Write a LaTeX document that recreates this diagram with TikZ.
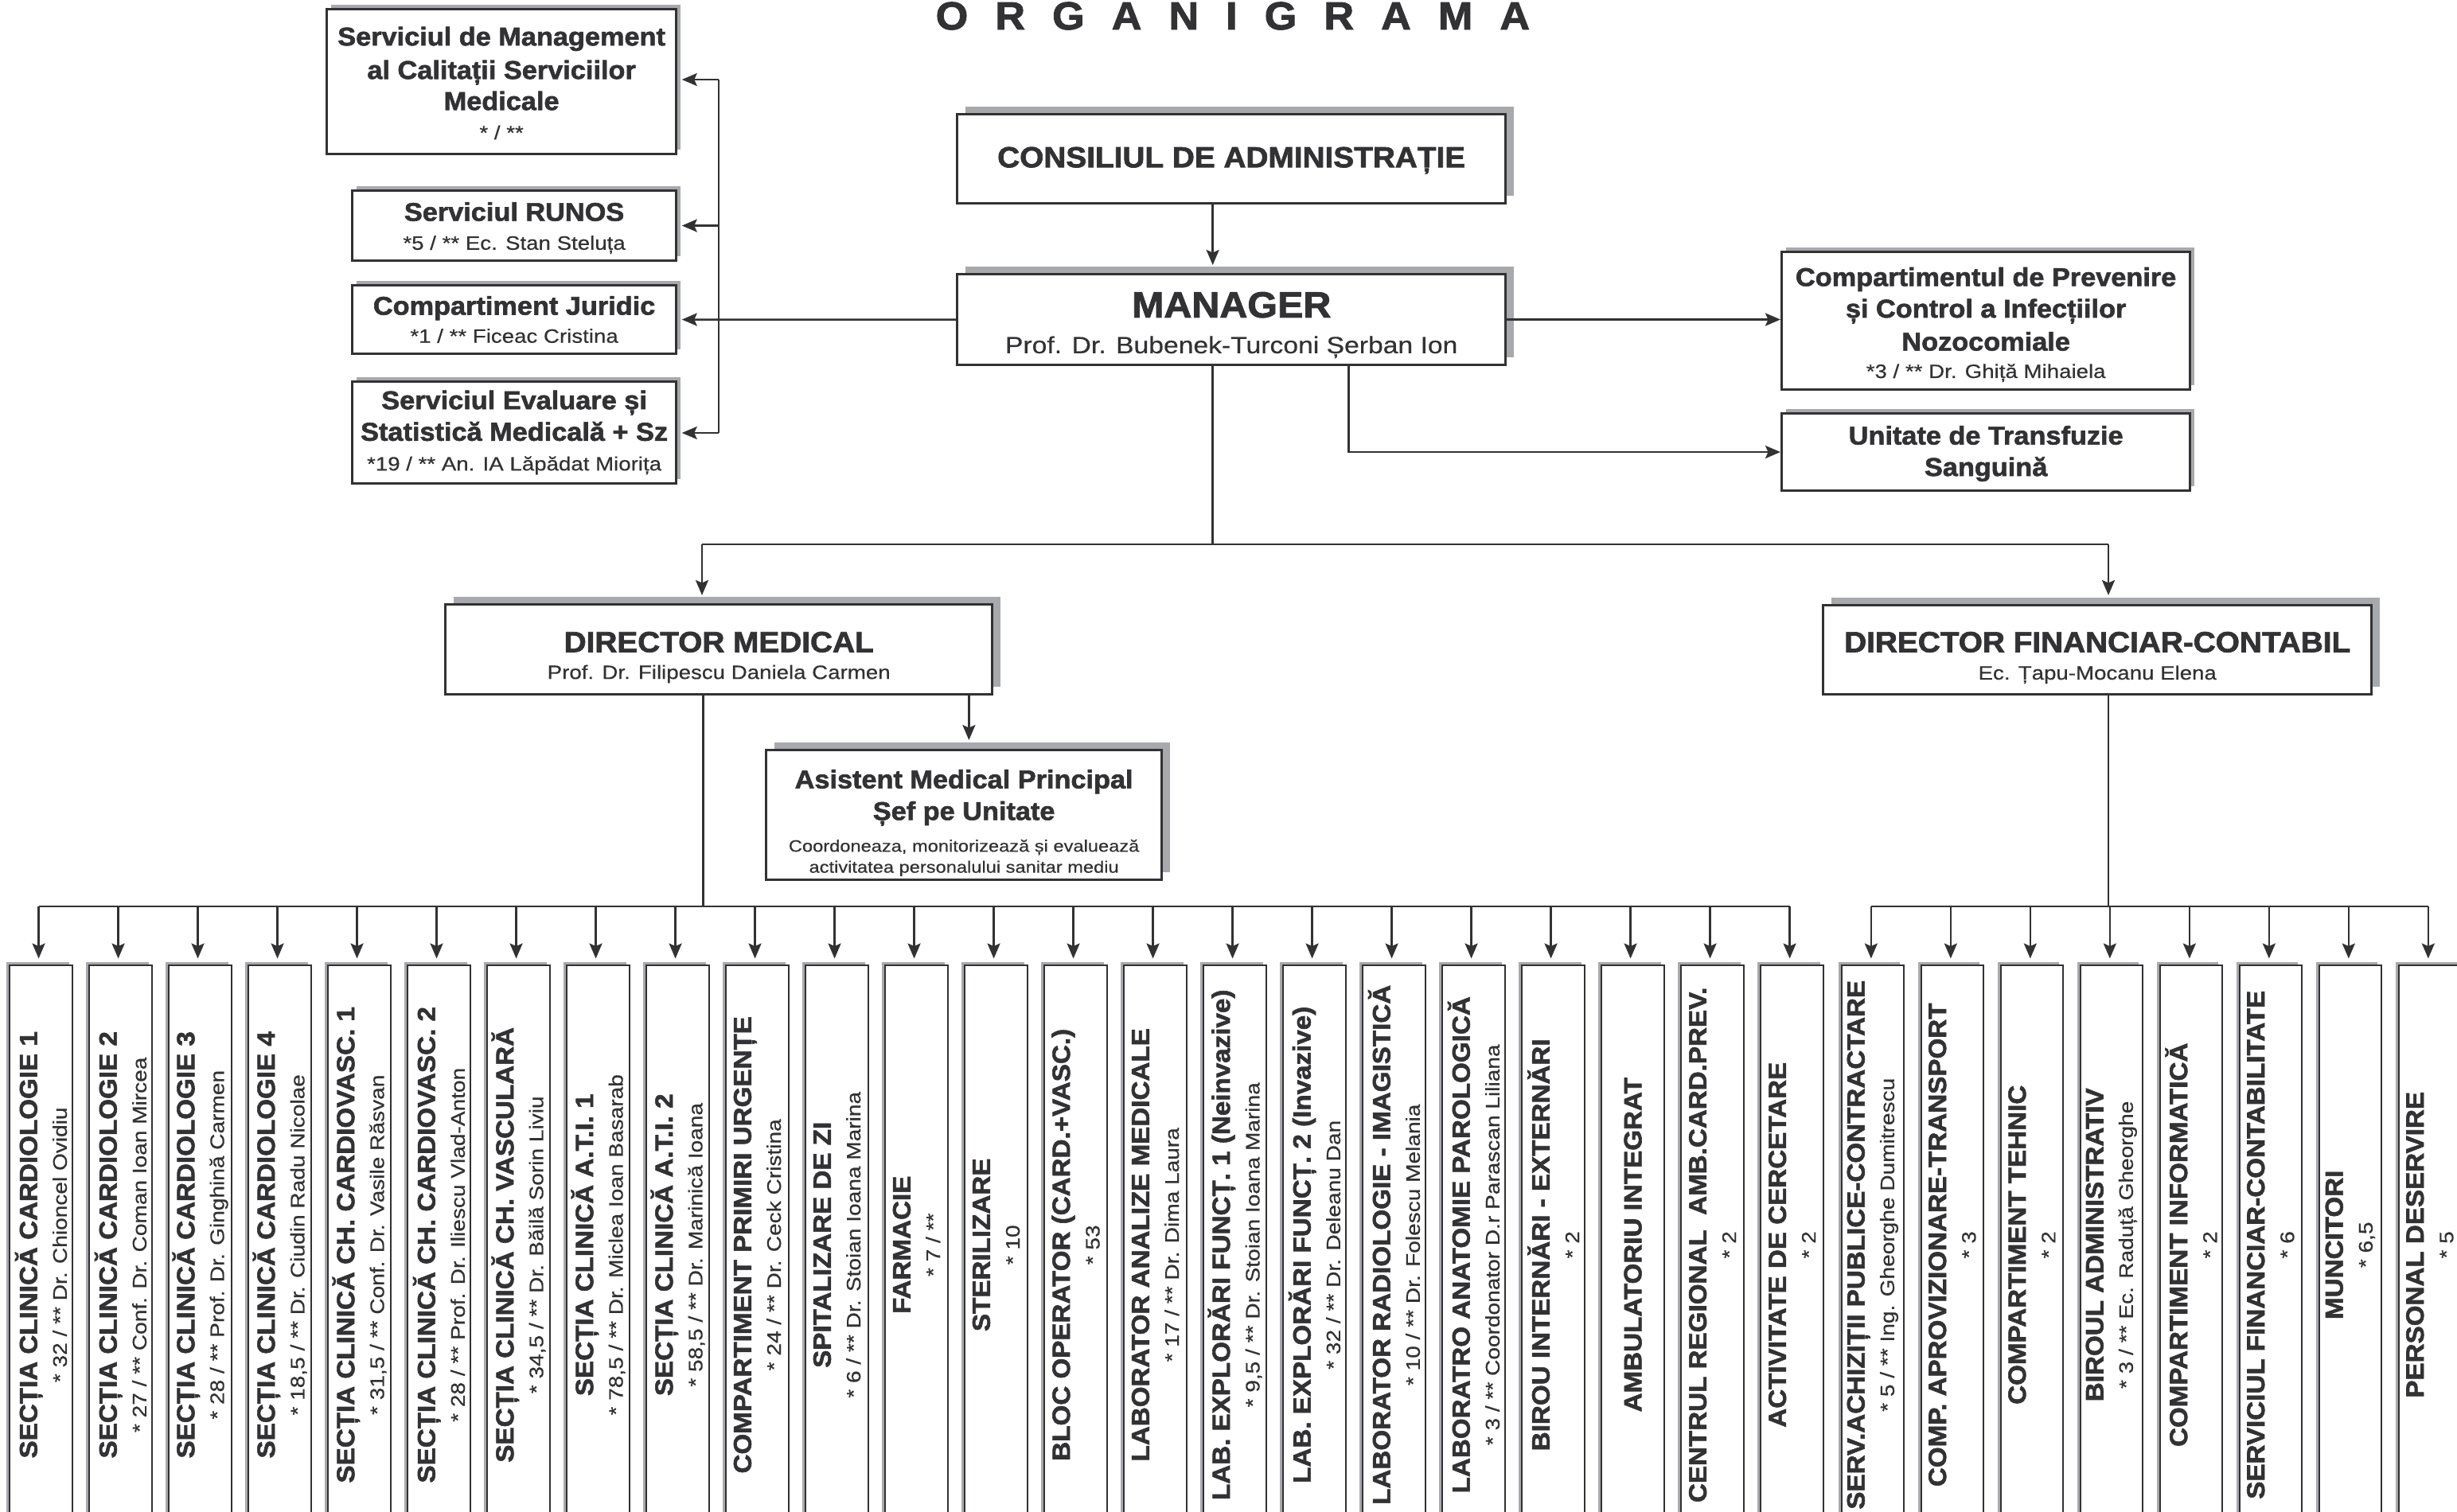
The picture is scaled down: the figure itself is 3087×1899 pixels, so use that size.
\documentclass[tikz,border=0pt]{standalone}
\usepackage{fontspec}
\setmainfont{Liberation Sans}
\newfontfamily\fb{Liberation Sans}[FakeStretch=1.06,FakeBold=1.9]
\newfontfamily\fr{Liberation Sans}[FakeStretch=1.14,FakeBold=0.5]
\usetikzlibrary{arrows.meta,shadows}
\definecolor{ink}{RGB}{50,50,52}
\definecolor{shg}{RGB}{168,169,173}
\newcommand{\boldl}[2]{{\fb\bfseries\fontsize{#1}{#1}\selectfont #2}}
\newcommand{\regl}[2]{{\fr\fontsize{#1}{#1}\selectfont #2}}
\newcommand{\ttl}[1]{{\fb\bfseries\fontsize{8.9}{8.9}\selectfont #1}}
\newcommand{\sbt}[1]{{\fr\fontsize{7}{7}\selectfont #1}}
\begin{document}
\begin{tikzpicture}[x=0.01cm,y=-0.01cm,
  boxst/.style={draw=ink, line width=0.85pt, fill=white, inner sep=0pt, anchor=north west},
  txt/.style={align=center, inner sep=0pt, text=ink},
  shA/.style={general shadow={fill=shg, shadow xshift=1mm, shadow yshift=1mm}},
  shB/.style={general shadow={fill=shg, shadow xshift=0.5mm, shadow yshift=0.55mm}},
  shC/.style={general shadow={fill=shg, shadow xshift=-0.45mm, shadow yshift=0.45mm}},
  bbox/.style={draw=ink, line width=0.6pt, fill=white, inner sep=0pt, anchor=north west, minimum height=70.2mm, shC},
  vtext/.style={rotate=90, align=center, inner sep=0pt, text=ink, font=\fontsize{8.9}{10.6}\selectfont},
  ln/.style={draw=ink, line width=0.7pt},
  arr/.style={ln, -{Stealth[length=1.9mm,width=1.6mm,inset=0.35mm]}}
]
\fill[white] (0,0) rectangle (3087,1899);
\useasboundingbox (0,0) rectangle (3087,1899);

% title
\node[anchor=base west, inner sep=0pt, text=ink] (title) at (1175,37)
  {\fb\bfseries\fontsize{14}{14}\selectfont\hbox to 74.6mm{O\hfil R\hfil G\hfil A\hfil N\hfil I\hfil G\hfil R\hfil A\hfil M\hfil A}};

% left staff boxes
\node[boxst, shB, minimum width=43.9mm, minimum height=18.2mm] (mgmt) at (409,10) {};
\node[txt, font=\fontsize{9.2}{11.1}\selectfont] (mgmt-t) at ([yshift=-0.2mm]mgmt.center)
  {\boldl{9.2}{Serviciul de Management}\\[0.85pt]\boldl{9.2}{al Calitații Serviciilor}\\\boldl{9.2}{Medicale}\\[-0.6pt]\regl{6.9}{* / **}};
\node[boxst, shB, minimum width=40.7mm, minimum height=8.8mm] (runos) at (441,238) {};
\node[txt, font=\fontsize{9.2}{10.3}\selectfont] (runos-t) at ([yshift=-0.3mm]runos.center)
  {\boldl{9.2}{Serviciul RUNOS}\\\regl{6.9}{*5 / ** Ec. Stan Steluța}};
\node[boxst, shB, minimum width=40.7mm, minimum height=8.6mm] (jur) at (441,357) {};
\node[txt, font=\fontsize{9.2}{10}\selectfont] (jur-t) at (jur.center)
  {\boldl{9.2}{Compartiment Juridic}\\\regl{6.9}{*1 / ** Ficeac Cristina}};
\node[boxst, shB, minimum width=40.7mm, minimum height=12.8mm] (eval) at (441,478) {};
\node[txt, font=\fontsize{9.2}{10.64}\selectfont] (eval-t) at (eval.center)
  {\boldl{9.2}{Serviciul Evaluare și}\\[0.63pt]\boldl{9.2}{Statistică Medicală + Sz}\\\regl{6.9}{*19 / ** An. IA Lăpădat Miorița}};

% central boxes
\node[boxst, shA, minimum width=68.9mm, minimum height=11.2mm] (cons) at (1201,142) {};
\node[txt] (cons-t) at ([yshift=-0.2mm]cons.center) {\boldl{10.4}{CONSILIUL DE ADMINISTRAȚIE}};
\node[boxst, shA, minimum width=68.9mm, minimum height=11.4mm] (manager) at (1201,343) {};
\node[txt, font=\fontsize{12}{12.8}\selectfont] (manager-t) at ([yshift=-0.7mm]manager.center)
  {\boldl{13}{MANAGER}\\\regl{8.4}{Prof. Dr. Bubenek-Turconi Șerban Ion}};

% right staff boxes
\node[boxst, shB, minimum width=51.3mm, minimum height=17.3mm] (comp) at (2237,315) {};
\node[txt, font=\fontsize{9.2}{11.27}\selectfont] (comp-t) at ([yshift=-0.5mm]comp.center)
  {\boldl{9.2}{Compartimentul de Prevenire}\\\boldl{9.2}{și Control a Infecțiilor}\\[0.53pt]\boldl{9.2}{Nozocomiale}\\[-1.48pt]\regl{6.9}{*3 / ** Dr. Ghiță Mihaiela}};
\node[boxst, shB, minimum width=51.3mm, minimum height=9.7mm] (unit) at (2237,518) {};
\node[txt, font=\fontsize{9.2}{11.24}\selectfont] (unit-t) at ([yshift=-0.2mm]unit.center)
  {\boldl{9.2}{Unitate de Transfuzie}\\\boldl{9.2}{Sanguină}};

% directors
\node[boxst, shA, minimum width=68.7mm, minimum height=11.3mm] (dm) at (558,758) {};
\node[txt, font=\fontsize{9}{9.6}\selectfont] (dm-t) at ([yshift=-1mm]dm.center)
  {\boldl{10.4}{DIRECTOR MEDICAL}\\\regl{6.9}{Prof. Dr. Filipescu Daniela Carmen}};
\node[boxst, shA, minimum width=68.9mm, minimum height=11.2mm] (dfc) at (2289,759) {};
\node[txt, font=\fontsize{9}{9.8}\selectfont] (dfc-t) at ([yshift=-1mm]dfc.center)
  {\boldl{10.4}{DIRECTOR FINANCIAR-CONTABIL}\\\regl{6.9}{Ec. Țapu-Mocanu Elena}};
\node[boxst, shA, minimum width=49.7mm, minimum height=16.3mm] (asist) at (961,941) {};
\node[txt, font=\fontsize{9.2}{11.32}\selectfont] (asist-t) at ([yshift=-1mm]asist.center)
  {\boldl{9.2}{Asistent Medical Principal}\\\boldl{9.2}{Șef pe Unitate}\\\regl{5.9}{Coordoneaza, monitorizează și evaluează}\\[-3.81pt]\regl{5.9}{activitatea personalului sanitar mediu}};

% connectors top
\coordinate (bt) at (903,100);
\coordinate (bb) at (903,544);
\draw[ln] (bt) -- (bb);
\draw[arr, shorten >=0.55mm] (bt) -- (bt -| mgmt.east);
\draw[arr, shorten >=0.55mm] (bt |- runos.east) -- (runos.east);
\draw[arr, shorten >=0.55mm] (manager.west) -- (jur.east);
\draw[arr, shorten >=0.55mm] (bb) -- (bb -| eval.east);
\draw[arr, shorten >=1mm] ([xshift=-2.35mm]cons.south) -- ([xshift=-2.35mm]manager.north);
\draw[arr] (manager.east) -- (manager.east -| comp.west);
\draw[arr] ([xshift=14.7mm]manager.south) |- (unit.west);

\coordinate (jL) at (882,684);
\coordinate (jR) at (2649,684);
\draw[ln] ([xshift=-2.35mm]manager.south) -- ([xshift=-2.35mm]manager.south |- jL);
\draw[ln] (jL) -- (jR);
\draw[arr, shorten >=1mm] (jL) -- (jL |- dm.north);
\draw[arr, shorten >=1.1mm] (jR) -- (jR |- dfc.north);
\coordinate (asx) at ([xshift=31.4mm]dm.south);
\draw[arr, shorten >=1.1mm] (asx) -- (asx |- asist.north);

% bottom
\coordinate (mbus) at (0,1139);
\foreach \c [count=\i] in {
 {\ttl{SECȚIA CLINICĂ CARDIOLOGIE 1}\\\sbt{* 32 / ** Dr. Chioncel Ovidiu}},
 {\ttl{SECȚIA CLINICĂ CARDIOLOGIE 2}\\\sbt{* 27 / ** Conf. Dr. Coman Ioan Mircea}},
 {\ttl{SECȚIA CLINICĂ CARDIOLOGIE 3}\\\sbt{* 28 / ** Prof. Dr. Ginghină Carmen}},
 {\ttl{SECȚIA CLINICĂ CARDIOLOGIE 4}\\\sbt{* 18,5 / ** Dr. Ciudin Radu Nicolae}},
 {\ttl{SECȚIA CLINICĂ CH. CARDIOVASC. 1}\\\sbt{* 31,5 / ** Conf. Dr. Vasile Răsvan}},
 {\ttl{SECȚIA CLINICĂ CH. CARDIOVASC. 2}\\\sbt{* 28 / ** Prof. Dr. Iliescu Vlad-Anton}},
 {\ttl{SECȚIA CLINICĂ CH. VASCULARĂ}\\\sbt{* 34,5 / ** Dr. Băilă Sorin Liviu}},
 {\ttl{SECȚIA CLINICĂ A.T.I. 1}\\\sbt{* 78,5 / ** Dr. Miclea Ioan Basarab}},
 {\ttl{SECȚIA CLINICĂ A.T.I. 2}\\\sbt{* 58,5 / ** Dr. Marinică Ioana}},
 {\ttl{COMPARTIMENT PRIMIRI URGENȚE}\\\sbt{* 24 / ** Dr. Ceck Cristina}},
 {\ttl{SPITALIZARE DE ZI}\\\sbt{* 6 / ** Dr. Stoian Ioana Marina}},
 {\ttl{FARMACIE}\\\sbt{* 7 / **}},
 {\ttl{STERILIZARE}\\\sbt{* 10}},
 {\ttl{BLOC OPERATOR (CARD.+VASC.)}\\\sbt{* 53}},
 {\ttl{LABORATOR ANALIZE MEDICALE}\\\sbt{* 17 / ** Dr. Dima Laura}},
 {\ttl{LAB. EXPLORĂRI FUNCȚ. 1 (Neinvazive)}\\\sbt{* 9,5 / ** Dr. Stoian Ioana Marina}},
 {\ttl{LAB. EXPLORĂRI FUNCȚ. 2 (Invazive)}\\\sbt{* 32 / ** Dr. Deleanu Dan}},
 {\ttl{LABORATOR RADIOLOGIE - IMAGISTICĂ}\\\sbt{* 10 / ** Dr. Folescu Melania}},
 {\ttl{LABORATRO ANATOMIE PAROLOGICĂ}\\\sbt{* 3 / ** Coordonator D.r Parascan Liliana}},
 {\ttl{BIROU INTERNĂRI - EXTERNĂRI}\\\sbt{* 2}},
 {\ttl{AMBULATORIU INTEGRAT}},
 {\ttl{CENTRUL REGIONAL\ \ AMB.CARD.PREV.}\\\sbt{* 2}},
 {\ttl{ACTIVITATE DE CERCETARE}\\\sbt{* 2}}} {
  \node[bbox, minimum width=7.9mm] (m\i) at ({11+100*(\i-1)},1212) {};
  \node[vtext] (mx\i) at (m\i.center) {\c};
  \coordinate (mt\i) at ([xshift=-0.3mm]m\i.north);
  \draw[arr, shorten >=0.75mm] (mt\i |- mbus) -- (mt\i);
}
\draw[ln] (mt1 |- mbus) -- (mt23 |- mbus);
\coordinate (dmx) at ([xshift=-1.97mm]dm.south);
\draw[ln] (dmx) -- (dmx |- mbus);

\foreach \c [count=\i] in {
 {\ttl{SERV.ACHIZIȚII PUBLICE-CONTRACTARE}\\\sbt{* 5 / ** Ing. Gheorghe Dumitrescu}},
 {\ttl{COMP. APROVIZIONARE-TRANSPORT}\\\sbt{* 3}},
 {\ttl{COMPARTIMENT TEHNIC}\\\sbt{* 2}},
 {\ttl{BIROUL ADMINISTRATIV}\\\sbt{* 3 / ** Ec. Raduță Gheorghe}},
 {\ttl{COMPARTIMENT INFORMATICĂ}\\\sbt{* 2}},
 {\ttl{SERVICIUL FINANCIAR-CONTABILITATE}\\\sbt{* 6}},
 {\ttl{MUNCITORI}\\\sbt{* 6,5}},
 {\ttl{PERSONAL DESERVIRE}\\\sbt{* 5}}} {
  \node[bbox, minimum width=7.75mm] (f\i) at ({2313+100*(\i-1)},1212) {};
  \node[vtext] (fx\i) at (f\i.center) {\c};
  \coordinate (ft\i) at ([xshift=-0.2mm]f\i.north);
  \draw[arr, shorten >=0.75mm] (ft\i |- mbus) -- (ft\i);
}
\draw[ln] (ft1 |- mbus) -- (ft8 |- mbus);
\coordinate (dfx) at (jR |- dfc.south);
\draw[ln] (dfx) -- (dfx |- mbus);
\end{tikzpicture}
\end{document}
